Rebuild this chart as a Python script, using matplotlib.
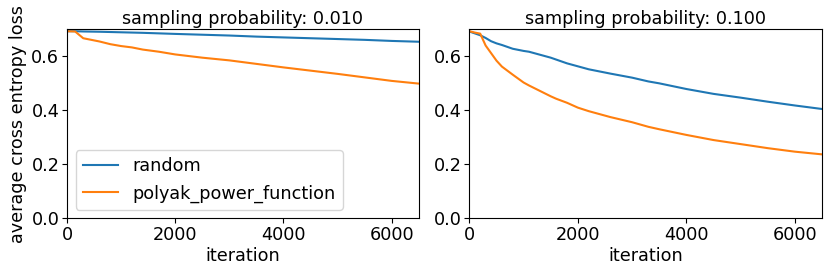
import matplotlib
matplotlib.use("Agg")
import matplotlib.pyplot as plt

it_left = [0, 150, 300, 600, 800, 1000, 1200, 1400, 1700, 2000, 2500, 3000,
           3500, 4000, 4500, 5000, 5500, 6000, 6500]
random_left = [0.693, 0.693, 0.692, 0.691, 0.690, 0.689, 0.688, 0.687, 0.685,
               0.683, 0.680, 0.677, 0.673, 0.670, 0.667, 0.664, 0.661, 0.657, 0.654]
polyak_left = [0.693, 0.692, 0.667, 0.655, 0.645, 0.638, 0.633, 0.625, 0.617,
               0.607, 0.595, 0.585, 0.572, 0.559, 0.547, 0.535, 0.522, 0.509, 0.499]

it_right = [0, 100, 200, 300, 400, 500, 600, 800, 1000, 1100, 1500, 1600, 1800,
            2000, 2200, 2600, 3000, 3300, 3500, 4000, 4500, 5000, 5500, 6000, 6500]
random_right = [0.692, 0.685, 0.678, 0.668, 0.656, 0.648, 0.642, 0.628, 0.620,
                0.617, 0.595, 0.588, 0.574, 0.563, 0.552, 0.536, 0.521, 0.507,
                0.500, 0.479, 0.461, 0.447, 0.432, 0.418, 0.405]
polyak_right = [0.693, 0.688, 0.684, 0.640, 0.612, 0.584, 0.562, 0.532, 0.503,
                0.492, 0.452, 0.443, 0.428, 0.410, 0.397, 0.375, 0.356, 0.339,
                0.330, 0.309, 0.290, 0.275, 0.260, 0.247, 0.237]

titles = ["sampling probability: 0.010", "sampling probability: 0.100"]

fs = 12.7
plt.rcParams['font.size'] = fs
fig = plt.figure(figsize=(8.31, 2.74), dpi=100)
ax1 = fig.add_axes([0.0806, 0.203, 0.4234, 0.690])
ax2 = fig.add_axes([0.5648, 0.203, 0.4244, 0.690])

panels = [(ax1, it_left, random_left, polyak_left),
          (ax2, it_right, random_right, polyak_right)]
for i, (ax, it, r, p) in enumerate(panels):
    ax.plot(it, r, color="#1f77b4", lw=1.5, label="random")
    ax.plot(it, p, color="#ff7f0e", lw=1.5, label="polyak_power_function")
    ax.set_xlim(0, 6500)
    ax.set_ylim(0, 0.7)
    ax.set_yticks([0.0, 0.2, 0.4, 0.6])
    ax.set_xticks([0, 2000, 4000, 6000])
    ax.set_title(titles[i], fontsize=fs, pad=4)
    ax.set_xlabel("iteration", labelpad=2.5)
    ax.tick_params(labelsize=fs, pad=2)

ax1.set_ylabel("average cross entropy loss", labelpad=3)
ax1.legend(loc="lower left", fontsize=fs)

fig.savefig("out.png", dpi=100)
